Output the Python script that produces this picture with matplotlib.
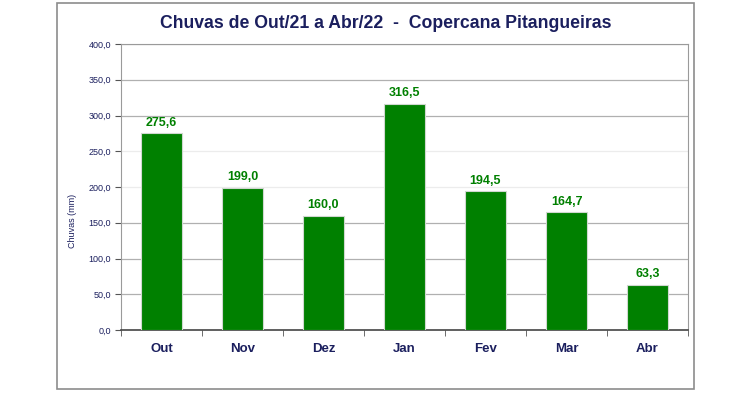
import matplotlib
matplotlib.use("Agg")
import matplotlib.pyplot as plt
from matplotlib.patches import Rectangle
import numpy as np

plt.rcParams['font.family'] = ['Liberation Sans', 'DejaVu Sans']

months = ['Out', 'Nov', 'Dez', 'Jan', 'Fev', 'Mar', 'Abr']
chuvas = [275.6, 199.0, 160.0, 316.5, 194.5, 164.7, 63.3]
yticks = [0, 50, 100, 150, 200, 250, 300, 350, 400]

navy = '#1b1f5e'
green = '#008000'

fig = plt.figure(figsize=(7.5, 3.93), dpi=100)
fig.patches.append(Rectangle((57 / 750, 1 - 389 / 393), 637 / 750, 386 / 393,
                             transform=fig.transFigure, fill=False,
                             edgecolor='#8c8c8c', linewidth=1.2))

ax = fig.add_axes([121 / 750, 1 - 330 / 393, 567 / 750, 286 / 393])
x = np.arange(len(months))
ax.bar(x, chuvas, width=0.5, color=green, edgecolor='#d0d8d0', linewidth=0.8, zorder=3)

for xi, v in zip(x, chuvas):
    ax.text(xi, v + 6, f'{v:.1f}'.replace('.', ','), ha='center', va='bottom',
            color=green, fontsize=9, fontweight='bold')

ax.set_xlim(-0.5, len(months) - 0.5)
ax.set_ylim(0, 400)
ax.set_yticks(yticks)
ax.set_yticklabels([f'{t:.1f}'.replace('.', ',') for t in yticks], fontsize=6.5, color=navy)
ax.set_xticks(x)
ax.set_xticklabels(months, fontsize=9.5, fontweight='bold', color=navy)
ax.set_xticks(np.arange(len(months) + 1) - 0.5, minor=True)
ax.tick_params(axis='x', which='major', length=0, pad=9)
ax.tick_params(axis='x', which='minor', length=4, color='#555555')
ax.tick_params(axis='y', length=4, color='#555555', pad=3)

for t in yticks[1:]:
    c = '#ececec' if t in (200, 250) else '#b0b0b0'
    ax.axhline(t, color=c, linewidth=0.9, zorder=1)

for s in ['top', 'right', 'left']:
    ax.spines[s].set_color('#9a9a9a')
ax.spines['bottom'].set_color('#444444')
ax.spines['bottom'].set_linewidth(1.2)

ax.set_ylabel('Chuvas (mm)', fontsize=6.5, color=navy)
ax.yaxis.set_label_coords(-0.078, 0.38)
fig.text(386 / 750, 1 - 24 / 393, 'Chuvas de Out/21 a Abr/22  -  Copercana Pitangueiras',
         ha='center', va='center', fontsize=12.7, fontweight='bold', color=navy)

fig.savefig('out.png', dpi=100)
